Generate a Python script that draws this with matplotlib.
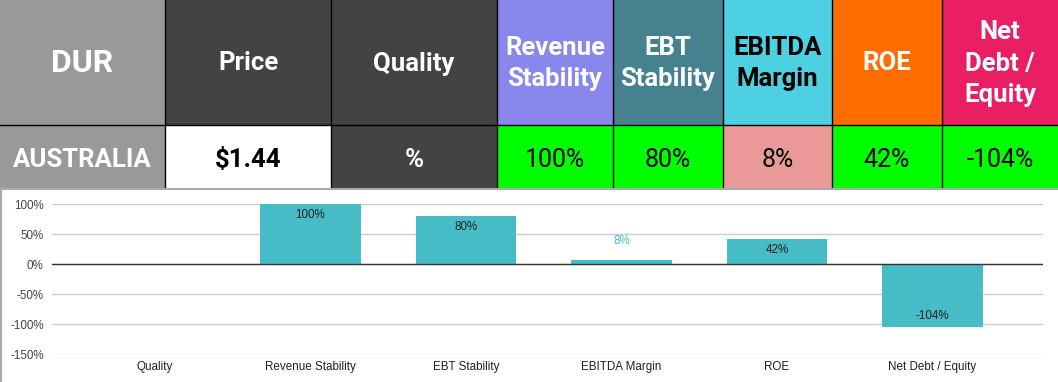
import numpy as np
import matplotlib
matplotlib.use("Agg")
import matplotlib.pyplot as plt
from matplotlib.patches import Rectangle

# table data
header_labels = ["DUR", "Price", "Quality", "Revenue\nStability", "EBT\nStability",
                 "EBITDA\nMargin", "ROE", "Net\nDebt /\nEquity"]
header_colors = ["#999999", "#434343", "#434343", "#8a87ec", "#45818e",
                 "#4dd0e1", "#ff6d01", "#e91e63"]
header_text_colors = ["white", "white", "white", "white", "white", "black", "white", "white"]

row_labels = ["AUSTRALIA", "$1.44", "%", "100%", "80%", "8%", "42%", "-104%"]
row_colors = ["#999999", "#ffffff", "#434343", "#00ff00", "#00ff00",
              "#ea9999", "#00ff00", "#00ff00"]
row_text_colors = ["white", "black", "white", "black", "black", "black", "black", "black"]
row_bold = [True, True, True, False, False, False, False, False]

# chart data
categories = ["Quality", "Revenue Stability", "EBT Stability", "EBITDA Margin", "ROE",
              "Net Debt / Equity"]
values = [np.nan, 100, 80, 8, 42, -104]
y_ticks = [100, 50, 0, -50, -100, -150]

W, H = 1058, 382
fig = plt.figure(figsize=(W / 100, H / 100), dpi=100)

# ---- table on top, in pixel coordinates
tab = fig.add_axes([0, 0, 1, 1])
tab.set_xlim(0, W)
tab.set_ylim(H, 0)
tab.axis("off")

col_edges = [0, 165, 331, 497, 613, 723, 832, 942, 1058]
row_edges = [0, 125, 188]

for i in range(len(header_labels)):
    x0, x1 = col_edges[i], col_edges[i + 1]
    # header cell
    tab.add_patch(Rectangle((x0, row_edges[0]), x1 - x0, row_edges[1] - row_edges[0],
                            facecolor=header_colors[i], edgecolor="none"))
    tab.text((x0 + x1) / 2, (row_edges[0] + row_edges[1]) / 2 + 1, header_labels[i],
             ha="center", va="center", family="Roboto", weight="bold",
             fontsize=23 if i == 0 else 18.5, color=header_text_colors[i],
             linespacing=1.38)
    # value cell
    tab.add_patch(Rectangle((x0, row_edges[1]), x1 - x0, row_edges[2] - row_edges[1],
                            facecolor=row_colors[i], edgecolor="none"))
    tab.text((x0 + x1) / 2, (row_edges[1] + row_edges[2]) / 2 + 3.5, row_labels[i],
             ha="center", va="center", family="Roboto",
             weight="bold" if row_bold[i] else "normal",
             fontsize=18.5 if row_bold[i] else 18, color=row_text_colors[i])

# cell borders
for xe in col_edges[1:-1]:
    tab.plot([xe, xe], [0, row_edges[2]], color="black", lw=1)
tab.plot([0, W], [row_edges[1], row_edges[1]], color="black", lw=1)

# grey border round the chart
tab.plot([0, W], [188.5, 188.5], color="#aaaaaa", lw=1.5)
tab.plot([0.8, 0.8], [188.5, H], color="#aaaaaa", lw=1.5)

# ---- bar chart
ax = fig.add_axes([52 / W, (H - 354.3) / H, (1043 - 52) / W, 150 / H])
x = np.arange(len(categories))
bar_color = "#46bdc6"
ax.bar(x, values, width=0.648, color=bar_color, zorder=3)

ax.set_xlim(-0.662, 5.71)
ax.set_ylim(-150, 100)
ax.set_yticks(y_ticks)
ax.set_yticklabels([f"{t}%" for t in y_ticks], family="Liberation Sans", fontsize=8.4,
                   color="#444444")
ax.set_xticks(x)
ax.set_xticklabels(categories, family="Liberation Sans", fontsize=8.4, color="#222222")
ax.tick_params(axis="both", length=0)
ax.tick_params(axis="y", pad=6)
ax.tick_params(axis="x", pad=5)
for s in ax.spines.values():
    s.set_visible(False)
ax.grid(axis="y", color="#cccccc", lw=1, zorder=0)
ax.axhline(0, color="#333333", lw=1, zorder=4)

for xi, v in zip(x, values):
    if np.isnan(v):
        continue
    if abs(v) < 15:
        ax.annotate(f"{v:g}%", (xi, v), xytext=(0, 13), textcoords="offset points",
                    ha="center", va="center", family="Liberation Sans", fontsize=8.4,
                    color=bar_color, zorder=5)
    else:
        off = -8 if v > 0 else 8
        ax.annotate(f"{v:g}%", (xi, v), xytext=(0, off), textcoords="offset points",
                    ha="center", va="center", family="Liberation Sans", fontsize=8.4,
                    color="#222222", zorder=5)

fig.savefig("out.png", dpi=100)
